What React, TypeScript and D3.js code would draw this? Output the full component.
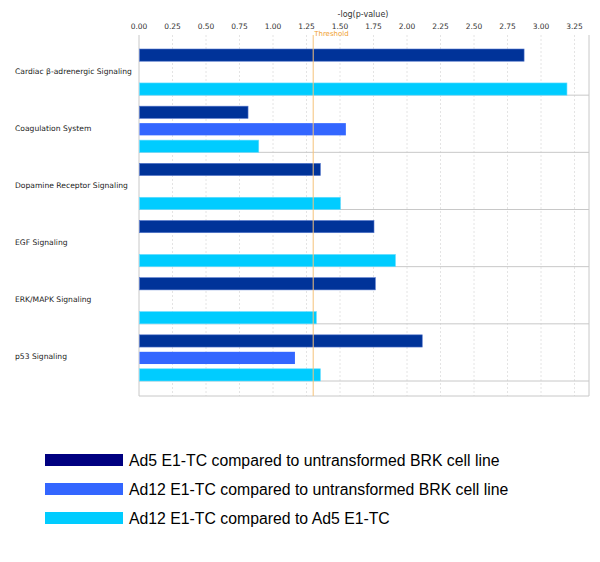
import React, { useEffect, useRef } from "react";
import * as d3 from "d3";

const pathways = [
  "Cardiac β-adrenergic Signaling",
  "Coagulation System",
  "Dopamine Receptor Signaling",
  "EGF Signaling",
  "ERK/MAPK Signaling",
  "p53 Signaling",
];

const seriesNames = [
  "Ad5 E1-TC compared to untransformed BRK cell line",
  "Ad12 E1-TC compared to untransformed BRK cell line",
  "Ad12 E1-TC compared to Ad5 E1-TC",
];

// -log(p-value) per pathway, null where no bar is drawn
const ad5VsBrk = [2.87, 0.81, 1.35, 1.75, 1.76, 2.11];
const ad12VsBrk = [null, 1.54, null, null, null, 1.16];
const ad12VsAd5 = [3.19, 0.89, 1.5, 1.91, 1.32, 1.35];

const xTicks = [0, 0.25, 0.5, 0.75, 1, 1.25, 1.5, 1.75, 2, 2.25, 2.5, 2.75, 3, 3.25];
const threshold = 1.3;

const barColors = ["#003399", "#3366ff", "#00ccff"];
const legendColors = ["#000080", "#3366ff", "#00ccff"];

export default function App() {
  const ref = useRef<SVGSVGElement>(null);

  useEffect(() => {
    const svg = d3.select(ref.current);
    svg.selectAll("*").remove();

    const left = 139;
    const right = 589;
    const top = 35;
    const bottom = 396;
    const font = "Tahoma, 'DejaVu Sans', sans-serif";

    const x = d3.scaleLinear().domain([0, (right - left) / 134]).range([left, right]);
    const y = d3.scaleBand().domain(pathways).range([38, 381]);
    const inner = d3
      .scaleBand<number>()
      .domain([0, 1, 2])
      .range([11, y.bandwidth()])
      .paddingInner(0.28);

    const series = [ad5VsBrk, ad12VsBrk, ad12VsAd5];

    // vertical dashed grid
    svg
      .append("g")
      .selectAll("line")
      .data(xTicks.slice(1))
      .enter()
      .append("line")
      .attr("x1", (d) => x(d))
      .attr("x2", (d) => x(d))
      .attr("y1", top)
      .attr("y2", bottom)
      .attr("stroke", "#e4e4e4")
      .attr("stroke-dasharray", "2,2");

    // tick labels
    svg
      .append("g")
      .selectAll("text")
      .data(xTicks)
      .enter()
      .append("text")
      .attr("x", (d) => x(d))
      .attr("y", 29)
      .attr("text-anchor", "middle")
      .attr("font-family", font)
      .attr("font-size", 7.5)
      .attr("fill", "#333")
      .text((d) => d.toFixed(2));

    svg
      .append("text")
      .attr("x", 363)
      .attr("y", 17)
      .attr("text-anchor", "middle")
      .attr("font-family", font)
      .attr("font-size", 8)
      .attr("fill", "#333")
      .text("-log(p-value)");

    // category separators
    svg
      .append("g")
      .selectAll("line")
      .data(pathways)
      .enter()
      .append("line")
      .attr("x1", left)
      .attr("x2", right)
      .attr("y1", (d) => y(d)! + y.bandwidth())
      .attr("y2", (d) => y(d)! + y.bandwidth())
      .attr("stroke", "#c8c8c8");

    // frame
    svg
      .append("path")
      .attr("d", `M${left},${top}V${bottom}H${right}V${top}`)
      .attr("fill", "none")
      .attr("stroke", "#c8c8c8");

    // bars
    series.forEach((vals, si) => {
      svg
        .append("g")
        .selectAll("rect")
        .data(pathways.map((p, i) => ({ p, v: vals[i] })).filter((d) => d.v != null))
        .enter()
        .append("rect")
        .attr("x", x(0) + 0.5)
        .attr("y", (d) => y(d.p)! + inner(si)!)
        .attr("width", (d) => x(d.v as number) - x(0))
        .attr("height", inner.bandwidth())
        .attr("fill", barColors[si])
        .attr("stroke", si === 0 ? "#5577cc" : "#66ddff")
        .attr("stroke-width", si === 1 ? 0 : 0.6);
    });

    // threshold
    svg
      .append("line")
      .attr("x1", x(threshold))
      .attr("x2", x(threshold))
      .attr("y1", top)
      .attr("y2", bottom)
      .attr("stroke", "#f5c27a")
      .attr("stroke-width", 1);
    svg
      .append("text")
      .attr("x", x(threshold) + 1)
      .attr("y", 35.5)
      .attr("font-family", font)
      .attr("font-size", 7)
      .attr("fill", "#f0a030")
      .text("Threshold");

    // category labels
    svg
      .append("g")
      .selectAll("text")
      .data(pathways)
      .enter()
      .append("text")
      .attr("x", 15)
      .attr("y", (d) => y(d)! + y.bandwidth() / 2 + 7)
      .attr("font-family", font)
      .attr("font-size", 7.6)
      .attr("fill", "#222")
      .text((d) => d);

    // legend
    const legend = svg
      .append("g")
      .selectAll("g")
      .data(seriesNames)
      .enter()
      .append("g")
      .attr("transform", (d, i) => `translate(45, ${454 + i * 29})`);
    legend
      .append("rect")
      .attr("width", 78)
      .attr("height", 12)
      .attr("fill", (d, i) => legendColors[i]);
    legend
      .append("text")
      .attr("x", 84)
      .attr("y", 12)
      .attr("font-family", "'Liberation Sans', Arial, sans-serif")
      .attr("font-size", 15.8)
      .attr("fill", "#000")
      .text((d) => d);
  }, []);

  return (
    <svg
      ref={ref}
      width={600}
      height={562}
      style={{ position: "absolute", left: 0, top: 0, background: "#fff" }}
    />
  );
}
